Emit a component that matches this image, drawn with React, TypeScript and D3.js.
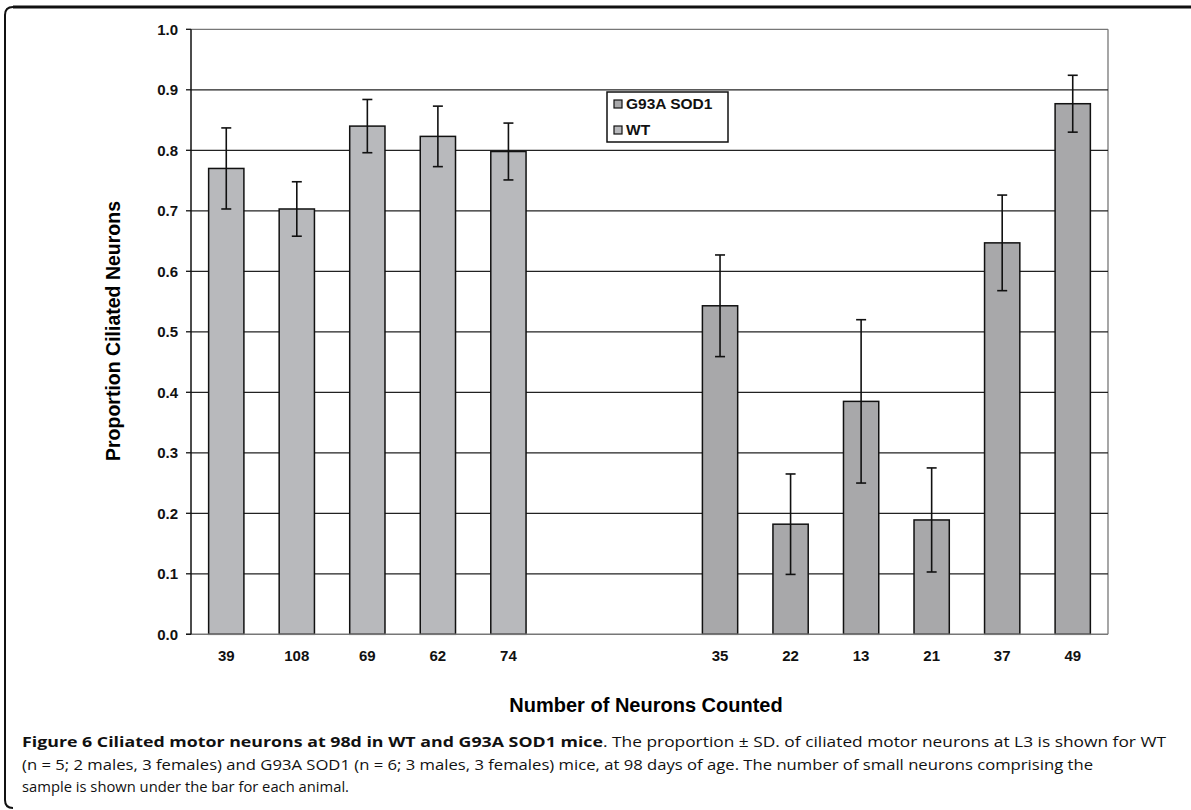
import React from "react";
import * as d3 from "d3";

// Category slots along the x axis (two blank slots separate the groups)
const categories = ["39", "108", "69", "62", "74", "", "", "35", "22", "13", "21", "37", "49"];

// WT animals occupy slots 0-4
const wtSlots = [0, 1, 2, 3, 4];
const wtValues = [0.770, 0.703, 0.840, 0.823, 0.798];
const wtSD = [0.067, 0.045, 0.044, 0.050, 0.047];

// G93A SOD1 animals occupy slots 7-12
const g93aSlots = [7, 8, 9, 10, 11, 12];
const g93aValues = [0.543, 0.182, 0.385, 0.189, 0.647, 0.877];
const g93aSD = [0.084, 0.083, 0.135, 0.086, 0.079, 0.047];

const yTicks = [0, 0.1, 0.2, 0.3, 0.4, 0.5, 0.6, 0.7, 0.8, 0.9, 1.0];

const seriesNames = ["G93A SOD1", "WT"];

const W = 1191;
const H = 810;
const plot = { left: 191, right: 1108, top: 29.3, bottom: 634.3 };

const WT_FILL = "#b8b9bc";
const G93A_FILL = "#a8a8aa";
const AX_FONT = "'Liberation Sans', Arial, sans-serif";
const CAP_FONT = "'Open Sans', 'Noto Sans', sans-serif";

export default function App() {
  const x = d3
    .scaleBand<number>()
    .domain(d3.range(categories.length))
    .range([plot.left, plot.right])
    .paddingInner(0.5)
    .paddingOuter(0.25);
  const y = d3.scaleLinear().domain([0, 1]).range([plot.bottom, plot.top]);
  const bw = x.bandwidth();
  const capW = 10;

  const bars = [
    ...wtSlots.map((s, i) => ({ slot: s, v: wtValues[i], sd: wtSD[i], fill: WT_FILL })),
    ...g93aSlots.map((s, i) => ({ slot: s, v: g93aValues[i], sd: g93aSD[i], fill: G93A_FILL })),
  ];

  const cx = (s: number) => (x(s) as number) + bw / 2;

  // outer figure frame with rounded left corners
  const framePath = `M ${W} 7 L 13 7 Q 5 7 5 15 L 5 800 Q 5 808 13 808`;

  return (
    <svg width={W} height={H} style={{ position: "absolute", left: 0, top: 0, background: "#fff" }}>
      <rect x={0} y={0} width={W} height={H} fill="#fff" />
      <path d={framePath} fill="none" stroke="#111" strokeWidth={2} />
      <line x1={13} x2={W} y1={7} y2={7} stroke="#111" strokeWidth={3} />

      {/* plot frame: top and right edges */}
      <line x1={plot.left} x2={plot.right} y1={plot.top} y2={plot.top} stroke="#777" strokeWidth={1.3} />
      <line x1={plot.right} x2={plot.right} y1={plot.top} y2={plot.bottom} stroke="#777" strokeWidth={1.3} />

      {/* horizontal gridlines */}
      {yTicks.slice(1, -1).map((t) => (
        <line key={t} x1={plot.left} x2={plot.right} y1={y(t)} y2={y(t)} stroke="#222" strokeWidth={1.3} />
      ))}

      {/* bars */}
      {bars.map((b) => (
        <rect
          key={b.slot}
          x={x(b.slot)}
          y={y(b.v)}
          width={bw}
          height={y(0) - y(b.v)}
          fill={b.fill}
          stroke="#111"
          strokeWidth={1.5}
        />
      ))}

      {/* error bars (± SD) */}
      {bars.map((b) => {
        const c = cx(b.slot);
        const hi = y(b.v + b.sd);
        const lo = y(b.v - b.sd);
        return (
          <g key={"e" + b.slot} stroke="#111" strokeWidth={1.6}>
            <line x1={c} x2={c} y1={hi} y2={lo} />
            <line x1={c - capW / 2} x2={c + capW / 2} y1={hi} y2={hi} />
            <line x1={c - capW / 2} x2={c + capW / 2} y1={lo} y2={lo} />
          </g>
        );
      })}

      {/* axes */}
      <line x1={plot.left - 5} x2={plot.right} y1={plot.bottom} y2={plot.bottom} stroke="#777" strokeWidth={1.5} />
      <line x1={plot.left} x2={plot.left} y1={plot.top} y2={plot.bottom} stroke="#111" strokeWidth={1.5} />
      {yTicks.map((t) => (
        <g key={"yt" + t}>
          <line x1={plot.left - 5} x2={plot.left} y1={y(t)} y2={y(t)} stroke="#111" strokeWidth={1.3} />
          <text
            x={178}
            y={y(t)}
            dy="0.35em"
            textAnchor="end"
            fontFamily={AX_FONT}
            fontWeight="bold"
            fontSize={15}
            fill="#111"
          >
            {d3.format(".1f")(t)}
          </text>
        </g>
      ))}
      {categories.map((c, i) =>
        c ? (
          <text
            key={"xt" + i}
            x={cx(i)}
            y={661}
            textAnchor="middle"
            fontFamily={AX_FONT}
            fontWeight="bold"
            fontSize={15}
            fill="#111"
          >
            {c}
          </text>
        ) : null
      )}

      {/* axis titles */}
      <text
        x={646}
        y={712}
        textAnchor="middle"
        fontFamily={AX_FONT}
        fontWeight="bold"
        fontSize={20}
        fill="#000"
      >
        Number of Neurons Counted
      </text>
      <text
        transform={`translate(120, 331) rotate(-90)`}
        textAnchor="middle"
        fontFamily={AX_FONT}
        fontWeight="bold"
        fontSize={19.5}
        fill="#000"
      >
        Proportion Ciliated Neurons
      </text>

      {/* legend */}
      <g>
        <rect x={607} y={92} width={121} height={50} fill="#fff" stroke="#111" strokeWidth={1.5} />
        {seriesNames.map((n, i) => (
          <g key={n}>
            <rect
              x={614}
              y={100 + i * 26}
              width={8}
              height={8}
              fill={i === 0 ? G93A_FILL : WT_FILL}
              stroke="#111"
              strokeWidth={1.2}
            />
            <text
              x={626}
              y={109 + i * 26}
              fontFamily={AX_FONT}
              fontWeight="bold"
              fontSize={15.5}
              fill="#111"
            >
              {n}
            </text>
          </g>
        ))}
      </g>

      {/* figure caption */}
      <text x={22} y={747} fontFamily={CAP_FONT} fontSize={15} fill="#111" fontWeight="bold" textLength={581} lengthAdjust="spacingAndGlyphs">
        Figure 6 Ciliated motor neurons at 98d in WT and G93A SOD1 mice
      </text>
      <text x={603} y={747} fontFamily={CAP_FONT} fontSize={15} fill="#111" textLength={563} lengthAdjust="spacingAndGlyphs">
        . The proportion ± SD. of ciliated motor neurons at L3 is shown for WT
      </text>
      <text x={22} y={770} fontFamily={CAP_FONT} fontSize={15} fill="#111" textLength={1071} lengthAdjust="spacingAndGlyphs">
        (n = 5; 2 males, 3 females) and G93A SOD1 (n = 6; 3 males, 3 females) mice, at 98 days of age. The number of small neurons comprising the
      </text>
      <text x={22} y={792} fontFamily={CAP_FONT} fontSize={15} fill="#111" textLength={327} lengthAdjust="spacingAndGlyphs">
        sample is shown under the bar for each animal.
      </text>
    </svg>
  );
}
